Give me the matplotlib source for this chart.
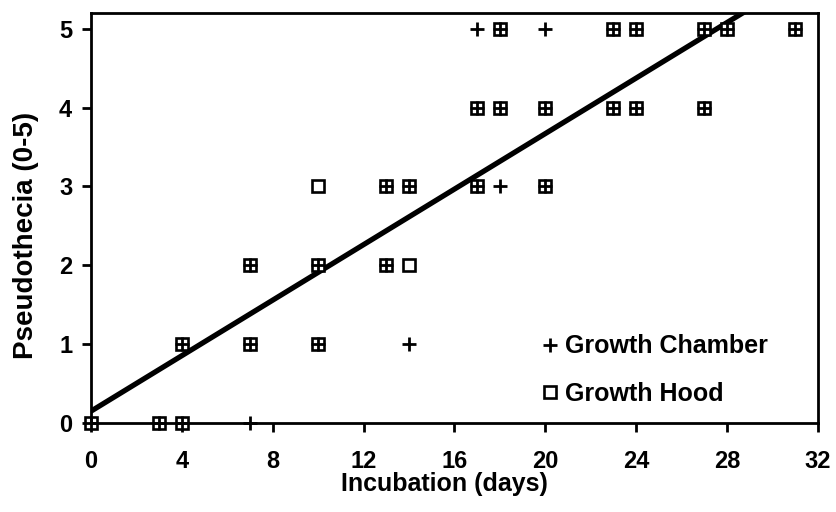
import matplotlib
matplotlib.use("Agg")
import matplotlib.pyplot as plt
import numpy as np

plt.rcParams['font.family'] = ['Liberation Sans', 'DejaVu Sans']
plt.rcParams['font.weight'] = 'bold'

# Growth Chamber (+)
chamber_x = [0, 3, 4, 7, 4, 7, 10, 14, 7, 10, 13, 13, 14, 17, 18, 20,
             17, 18, 20, 23, 24, 27, 17, 18, 20, 23, 24, 27, 28, 31]
chamber_y = [0, 0, 0, 0, 1, 1, 1, 1, 2, 2, 2, 3, 3, 3, 3, 3,
             4, 4, 4, 4, 4, 4, 5, 5, 5, 5, 5, 5, 5, 5]
# Growth Hood (square)
hood_x = [0, 3, 4, 4, 7, 10, 7, 10, 13, 14, 10, 13, 14, 17, 20,
          17, 18, 20, 23, 24, 27, 18, 23, 24, 27, 28, 31]
hood_y = [0, 0, 0, 1, 1, 1, 2, 2, 2, 2, 3, 3, 3, 3, 3,
          4, 4, 4, 4, 4, 4, 5, 5, 5, 5, 5, 5]

# Regression line
fit_intercept = 0.15
fit_slope = 0.176
fit_x = [0, 32]

x_ticks = [0, 4, 8, 12, 16, 20, 24, 28, 32]
y_ticks = [0, 1, 2, 3, 4, 5]

fig = plt.figure(figsize=(8.37, 5.12), dpi=100)
ax = fig.add_axes([0.1087, 0.1738, 0.8683, 0.8008])

fx = np.array(fit_x, dtype=float)
ax.plot(fx, fit_intercept + fit_slope * fx, color='black', lw=3.8, zorder=2)

ax.plot(hood_x, hood_y, linestyle='none', marker='s', markersize=9.3,
        mew=1.9, mfc='white', mec='black', clip_on=False, zorder=2.5,
        label='Growth Hood')
ax.plot(chamber_x, chamber_y, linestyle='none', marker='+', markersize=10,
        mew=2.0, color='black', clip_on=False, zorder=3.5,
        label='Growth Chamber')

ax.set_xlim(0, 32)
ax.set_ylim(0, 5.2)
ax.set_xticks(x_ticks)
ax.set_yticks(y_ticks)
for s in ax.spines.values():
    s.set_linewidth(2.0)
ax.tick_params(axis='both', direction='out', length=6.5, width=2.0,
               labelsize=17)
ax.tick_params(axis='x', pad=13)
ax.tick_params(axis='y', pad=7)
for lab in ax.get_xticklabels() + ax.get_yticklabels():
    lab.set_fontweight('bold')

ax.set_xlabel('Incubation (days)', fontsize=18, fontweight='bold', va='top')
ax.xaxis.set_label_coords(0.487, -0.1195)
ax.set_ylabel('Pseudothecia (0-5)', fontsize=20, fontweight='bold',
              va='center')
ax.yaxis.set_label_coords(-0.09, 0.4585)

handles, labels = ax.get_legend_handles_labels()
order = [1, 0]
leg = ax.legend([handles[i] for i in order], [labels[i] for i in order],
                loc='upper left', bbox_to_anchor=(0.6176, 0.216),
                frameon=False, borderpad=0, borderaxespad=0,
                handlelength=0.8, handletextpad=0.2, labelspacing=0.95,
                prop={'weight': 'bold', 'size': 18})

fig.savefig('out.png', dpi=100)
